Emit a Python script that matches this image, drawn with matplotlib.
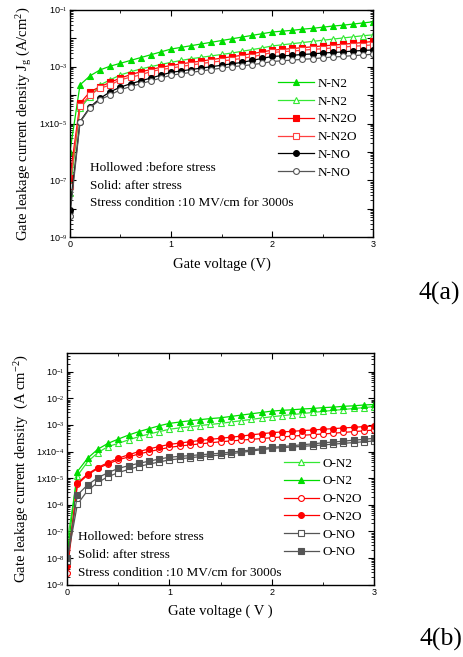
import matplotlib
matplotlib.use('Agg')
import matplotlib.pyplot as plt
import numpy as np
from matplotlib.ticker import FixedLocator, FixedFormatter, LogLocator, NullFormatter

plt.rcParams['font.family'] = 'Liberation Serif'
plt.rcParams['mathtext.fontset'] = 'custom'
plt.rcParams['mathtext.rm'] = 'Liberation Serif'
plt.rcParams['mathtext.it'] = 'Liberation Serif:italic'

# gate voltage (V)
volts = [0.0, 0.1, 0.2, 0.3, 0.4, 0.5, 0.6, 0.7, 0.8, 0.9, 1.0,
         1.1, 1.2, 1.3, 1.4, 1.5, 1.6, 1.7, 1.8, 1.9, 2.0,
         2.1, 2.2, 2.3, 2.4, 2.5, 2.6, 2.7, 2.8, 2.9, 3.0]

# fig 4(a), log10 of Jg (A/cm2)
n_n2_after = [-6.0, -3.64, -3.32, -3.11, -2.98, -2.88, -2.78, -2.68, -2.58, -2.48, -2.38,
              -2.32, -2.26, -2.20, -2.14, -2.08, -2.02, -1.96, -1.90, -1.84, -1.78,
              -1.75, -1.72, -1.68, -1.65, -1.61, -1.57, -1.54, -1.50, -1.46, -1.42]
n_n2_before = [-7.45, -4.46, -4.05, -3.64, -3.46, -3.29, -3.18, -3.08, -3.00, -2.92, -2.85,
               -2.78, -2.72, -2.67, -2.62, -2.57, -2.52, -2.46, -2.40, -2.34, -2.27,
               -2.23, -2.19, -2.15, -2.11, -2.07, -2.03, -1.99, -1.95, -1.91, -1.88]
n_n2o_after = [-6.9, -4.29, -3.88, -3.70, -3.55, -3.40, -3.28, -3.18, -3.10, -3.02, -2.96,
               -2.90, -2.85, -2.80, -2.75, -2.70, -2.65, -2.60, -2.54, -2.48, -2.42,
               -2.39, -2.36, -2.33, -2.30, -2.27, -2.24, -2.21, -2.18, -2.15, -2.11]
n_n2o_before = [-7.2, -4.40, -3.99, -3.76, -3.64, -3.46, -3.37, -3.29, -3.17, -3.10, -3.05,
                -2.99, -2.94, -2.89, -2.84, -2.80, -2.76, -2.71, -2.65, -2.58, -2.50,
                -2.47, -2.45, -2.42, -2.39, -2.37, -2.34, -2.31, -2.28, -2.26, -2.23]
n_no_after = [-8.04, -4.93, -4.42, -4.11, -3.88, -3.72, -3.60, -3.50, -3.40, -3.30, -3.20,
              -3.15, -3.10, -3.05, -3.00, -2.95, -2.90, -2.85, -2.78, -2.71, -2.64,
              -2.62, -2.60, -2.57, -2.55, -2.52, -2.50, -2.48, -2.45, -2.43, -2.41]
n_no_before = [-8.25, -4.96, -4.44, -4.16, -3.99, -3.81, -3.70, -3.60, -3.50, -3.40, -3.30,
               -3.25, -3.20, -3.15, -3.10, -3.05, -3.00, -2.97, -2.93, -2.88, -2.82,
               -2.79, -2.77, -2.74, -2.72, -2.69, -2.66, -2.64, -2.61, -2.59, -2.56]

# fig 4(b), log10 of Jg (A/cm2)
o_n2_before = [-7.4, -4.91, -4.38, -4.04, -3.81, -3.69, -3.56, -3.44, -3.34, -3.25, -3.16,
               -3.11, -3.07, -3.02, -2.98, -2.94, -2.89, -2.84, -2.79, -2.74, -2.69,
               -2.65, -2.61, -2.57, -2.53, -2.49, -2.45, -2.42, -2.38, -2.35, -2.31]
o_n2_after = [-7.9, -4.75, -4.25, -3.91, -3.69, -3.53, -3.38, -3.25, -3.14, -3.03, -2.94,
              -2.89, -2.84, -2.80, -2.76, -2.73, -2.68, -2.63, -2.58, -2.53, -2.48,
              -2.45, -2.43, -2.40, -2.38, -2.35, -2.33, -2.30, -2.28, -2.25, -2.23]
o_n2o_before = [-8.56, -5.23, -4.88, -4.63, -4.46, -4.31, -4.20, -4.09, -4.00, -3.92, -3.84,
                -3.79, -3.75, -3.71, -3.67, -3.63, -3.60, -3.57, -3.54, -3.51, -3.48,
                -3.45, -3.42, -3.39, -3.36, -3.34, -3.31, -3.28, -3.25, -3.22, -3.19]
o_n2o_after = [-8.3, -5.19, -4.84, -4.60, -4.41, -4.25, -4.12, -4.00, -3.90, -3.81, -3.73,
               -3.68, -3.63, -3.58, -3.54, -3.50, -3.46, -3.42, -3.37, -3.33, -3.29,
               -3.26, -3.24, -3.21, -3.19, -3.16, -3.14, -3.11, -3.09, -3.06, -3.04]
o_no_before = [-8.1, -5.98, -5.46, -5.16, -4.94, -4.79, -4.67, -4.56, -4.47, -4.39, -4.31,
               -4.27, -4.23, -4.19, -4.16, -4.13, -4.08, -4.03, -3.98, -3.93, -3.88,
               -3.85, -3.83, -3.80, -3.78, -3.75, -3.72, -3.69, -3.66, -3.63, -3.60]
o_no_after = [-8.0, -5.63, -5.25, -4.98, -4.79, -4.63, -4.53, -4.44, -4.36, -4.28, -4.21,
              -4.18, -4.15, -4.12, -4.09, -4.06, -4.02, -3.98, -3.94, -3.89, -3.84,
              -3.81, -3.78, -3.74, -3.71, -3.67, -3.64, -3.61, -3.57, -3.54, -3.50]

note_a = ['Hollowed :before stress', 'Solid: after stress',
          'Stress condition :10 MV/cm for 3000s']
note_b = ['Hollowed: before stress', 'Solid: after stress',
          'Stress condition :10 MV/cm for 3000s']

GREEN = '#00dd00'
LGREEN = '#33e833'
RED = '#ff0000'
LRED = '#ff4040'
BLACK = '#000000'
GREY = '#555555'

x = np.array(volts)


def draw(ax, series):
    for y, label, color, marker, filled in series:
        ax.plot(x, 10 ** np.array(y), color=color, lw=0.9, marker=marker, ms=4.2,
                mfc=color if filled else 'white', mec=color, mew=0.8, label=label)


def style(ax, labels, ticks):
    ax.set_yscale('log')
    ax.set_xlim(0, 3)
    ax.set_xticks([0, 1, 2, 3])
    ax.set_xticklabels(['0', '1', '2', '3'], family='Liberation Sans', fontsize=6.5)
    ax.yaxis.set_major_locator(FixedLocator(ticks))
    ax.yaxis.set_major_formatter(FixedFormatter(labels))
    ax.yaxis.set_minor_locator(LogLocator(base=10, subs=np.arange(2, 10), numticks=20))
    ax.yaxis.set_minor_formatter(NullFormatter())
    for t in ax.get_yticklabels():
        t.set_family('Liberation Sans')
        t.set_fontsize(6.5)
    ax.tick_params(which='both', direction='in', top=True, right=True)
    ax.tick_params(which='major', length=4, width=0.8, pad=2)
    ax.tick_params(which='minor', length=2, width=0.6)
    ax.set_xticks(np.arange(0, 3.01, 0.5), minor=True)
    for s in ax.spines.values():
        s.set_linewidth(1.0)


fig = plt.figure(figsize=(4.63, 6.57), dpi=100)

# ---- 4(a)
ax1 = fig.add_axes([0.151, 0.639, 0.655, 0.346])
draw(ax1, [
    (n_n2_after, 'N-N2', GREEN, '^', True),
    (n_n2_before, 'N-N2', LGREEN, '^', False),
    (n_n2o_after, 'N-N2O', RED, 's', True),
    (n_n2o_before, 'N-N2O', LRED, 's', False),
    (n_no_after, 'N-NO', BLACK, 'o', True),
    (n_no_before, 'N-NO', GREY, 'o', False),
])
ax1.set_ylim(1e-9, 1e-1)
style(ax1, ['10$^{-1}$', '', '10$^{-3}$', '', '1x10$^{-5}$', '', '10$^{-7}$', '', '10$^{-9}$'],
      [1e-1, 1e-2, 1e-3, 1e-4, 1e-5, 1e-6, 1e-7, 1e-8, 1e-9])
ax1.set_xlabel('Gate voltage (V)', fontsize=10.5, labelpad=6)
ax1.set_ylabel('Gate leakage current density J$_\\mathrm{g}$ (A/cm$^2$)', fontsize=10.5, labelpad=4)
ax1.legend(loc='upper left', bbox_to_anchor=(0.67, 0.725), frameon=False, fontsize=9.5,
           handlelength=2.7, handletextpad=0.3, labelspacing=0.42, borderaxespad=0)
for i, line in enumerate(note_a):
    ax1.text(0.065, 0.304 - i * 0.077, line, transform=ax1.transAxes, fontsize=9.5, va='center')

# ---- 4(b)
ax2 = fig.add_axes([0.145, 0.110, 0.663, 0.353])
draw(ax2, [
    (o_n2_before, 'O-N2', LGREEN, '^', False),
    (o_n2_after, 'O-N2', GREEN, '^', True),
    (o_n2o_before, 'O-N2O', RED, 'o', False),
    (o_n2o_after, 'O-N2O', RED, 'o', True),
    (o_no_before, 'O-NO', GREY, 's', False),
    (o_no_after, 'O-NO', GREY, 's', True),
])
ax2.set_ylim(1e-9, 10 ** -0.29)
style(ax2, ['10$^{-1}$', '10$^{-2}$', '10$^{-3}$', '1x10$^{-4}$', '1x10$^{-5}$',
            '10$^{-6}$', '10$^{-7}$', '10$^{-8}$', '10$^{-9}$'],
      [1e-1, 1e-2, 1e-3, 1e-4, 1e-5, 1e-6, 1e-7, 1e-8, 1e-9])
ax2.set_xlabel('Gate voltage ( V )', fontsize=10.5, labelpad=6)
ax2.set_ylabel('Gate leakage current density  (A cm$^{-2}$)', fontsize=10.5, labelpad=4)
ax2.legend(loc='upper left', bbox_to_anchor=(0.69, 0.572), frameon=False, fontsize=9.5,
           handlelength=2.6, handletextpad=0.3, labelspacing=0.42, borderaxespad=0)
for i, line in enumerate(note_b):
    ax2.text(0.035, 0.207 - i * 0.078, line, transform=ax2.transAxes, fontsize=9.5, va='center')

fig.text(0.903, 0.554, '4(a)', fontsize=18.5, va='center')
fig.text(0.907, 0.026, '4(b)', fontsize=18.5, va='center')

fig.savefig('out.png', dpi=100)
